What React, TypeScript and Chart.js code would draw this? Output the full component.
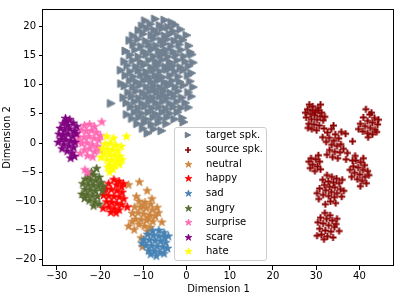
import React, { useEffect, useRef } from "react";
import { Chart, registerables } from "chart.js";

Chart.register(...registerables);

const FONT = "DejaVu Sans";

const seriesLabels = ["target spk.", "source spk.", "neutral", "happy", "sad", "angry", "surprise", "scare", "hate"];
const seriesColors = ["#708090", "#8B0000", "#CD853F", "#FF0000", "#4682B4", "#556B2F", "#FF69B4", "#800080", "#FFFF00"];
const seriesMarkers = ["triangle", "plus", "star", "star", "star", "star", "star", "star", "star"];

const xTicks = [-30, -20, -10, 0, 10, 20, 30, 40];
const yTicks = [-20, -15, -10, -5, 0, 5, 10, 15, 20];
const xRange = [-33.2, 48];
const yRange = [-21.1, 23];

type P = [number, number];

const targetSpk: P[] = [
  [-9.5,21.0],[-7.2,21.3],[-5.0,21.1],[-3.4,20.7],
  [-10.2,20.1],[-8.3,20.4],[-6.1,20.2],[-4.2,19.9],[-2.6,20.3],
  [-11.0,19.3],[-9.1,19.6],[-7.4,19.4],[-5.5,19.7],[-3.0,19.2],[-1.3,19.5],
  [-12.3,18.4],[-10.0,18.7],[-8.0,18.5],[-6.6,18.8],[-4.9,18.4],[-3.8,18.7],[-1.9,18.3],[0.1,18.5],
  [-13.1,17.6],[-11.2,17.8],[-9.3,17.5],[-7.5,17.9],[-5.8,17.6],[-4.4,17.8],[-2.7,17.5],[-0.8,17.7],
  [-12.2,16.9],[-10.4,16.6],[-8.6,16.9],[-6.9,16.7],[-5.2,17.0],[-3.5,16.6],[-1.6,16.9],[0.6,16.7],
  [-14.0,15.8],[-11.8,16.0],[-9.8,15.7],[-7.9,16.1],[-6.3,15.8],[-4.7,16.0],[-3.0,15.7],[-1.2,16.0],[0.9,15.6],
  [-13.0,15.1],[-11.0,14.8],[-9.2,15.2],[-7.5,14.9],[-5.9,15.1],[-4.2,14.8],[-2.4,15.1],[-0.5,14.9],[1.3,15.2],
  [-14.3,14.0],[-12.3,14.2],[-10.5,13.9],[-8.6,14.2],[-7.0,14.0],[-5.5,14.3],[-3.8,13.9],[-2.0,14.2],[-0.2,14.0],[1.6,13.8],
  [-13.6,13.3],[-11.6,13.1],[-9.8,13.4],[-8.1,13.0],[-6.5,13.3],[-4.8,13.1],[-3.0,13.3],[-1.3,13.0],[0.6,13.2],
  [-15.1,12.5],[-12.9,12.3],[-11.0,12.5],[-9.2,12.2],[-7.6,12.5],[-6.0,12.3],[-4.4,12.6],[-2.6,12.3],[-0.7,12.5],[1.2,12.0],
  [-14.0,11.6],[-12.2,11.4],[-10.4,11.7],[-8.7,11.4],[-7.1,11.6],[-5.4,11.3],[-3.7,11.6],[-1.8,11.4],[0.4,11.6],
  [-15.0,10.2],[-13.0,10.7],[-11.5,10.5],[-9.8,10.8],[-8.1,10.5],[-6.6,10.7],[-5.0,10.4],[-3.2,10.7],[-1.5,10.5],[0.9,10.6],
  [-14.2,9.8],[-12.3,9.6],[-10.7,9.9],[-9.1,9.6],[-7.5,9.8],[-5.9,9.5],[-4.3,9.8],[-2.5,9.6],[-0.6,9.9],[1.6,9.6],
  [-13.4,8.7],[-11.6,8.9],[-10.0,8.6],[-8.4,8.9],[-6.8,8.7],[-5.2,8.9],[-3.6,8.6],[-1.9,8.9],[0.5,8.7],
  [-14.5,7.8],[-12.6,8.0],[-10.9,7.7],[-9.3,8.0],[-7.7,7.8],[-6.1,8.0],[-4.5,7.7],[-2.8,8.0],[-1.0,7.8],[1.2,8.0],
  [-13.8,6.9],[-11.9,7.1],[-10.2,6.8],[-8.6,7.1],[-7.0,6.9],[-5.4,7.1],[-3.8,6.8],[-2.1,7.1],[-0.2,6.9],
  [-12.8,6.2],[-11.1,6.0],[-9.5,6.3],[-7.9,6.0],[-6.3,6.2],[-4.7,5.9],[-3.0,6.2],[-1.2,6.0],[0.5,6.1],
  [-13.7,4.9],[-11.9,5.3],[-10.3,5.1],[-8.7,5.3],[-7.1,5.0],[-5.5,5.3],[-3.8,5.1],[-2.0,5.3],
  [-12.5,4.2],[-10.9,4.4],[-9.3,4.1],[-7.6,4.4],[-6.0,4.2],[-4.4,4.4],[-2.7,4.1],[-0.9,4.3],
  [-11.3,3.3],[-9.6,3.5],[-8.0,3.2],[-6.4,3.5],[-4.6,3.3],[-0.6,3.6],
  [-10.0,2.5],[-7.5,2.4],[-5.7,2.1],[-8.9,1.7],
  [-17.4,6.8],
  [-8.0,16.2],[-5.0,15.5],[-6.8,13.6],[-3.6,12.9],[-8.9,11.0],[-6.2,11.1],[-4.0,10.1],[-7.3,9.2],[-5.1,8.2],[-8.2,7.4],
];

const sourceSpk: P[] = [
  [28.0,5.8],[29.2,6.3],[30.4,6.0],[31.3,5.2],[28.6,5.0],[29.8,5.3],[30.9,4.6],[27.7,4.4],[28.9,4.1],[30.2,4.0],
  [31.6,3.9],[28.3,3.3],[29.5,3.2],[30.7,3.0],[29.0,2.4],[30.1,2.2],[27.5,5.2],[29.6,4.8],[28.4,6.6],[31.0,6.6],
  [30.5,5.6],[29.1,5.6],[32.0,4.5],[28.1,2.6],
  [31.8,2.5],[32.6,1.8],[33.5,2.4],[34.4,1.5],[33.0,0.9],[34.1,0.4],[35.2,0.8],[32.3,0.2],[33.6,-0.3],[34.8,-0.5],
  [35.7,-0.2],[33.1,-1.2],[34.3,-1.5],[35.5,-1.6],[32.5,-2.0],[33.8,-2.4],[35.0,-2.6],[36.3,-1.0],[31.5,1.0],[36.9,-2.8],
  [34.0,3.0],[35.8,1.9],[38.4,0.3],[36.8,1.6],[37.2,-1.7],
  [28.8,-2.6],[29.9,-2.8],[30.8,-3.2],[29.2,-3.7],[30.3,-4.0],[28.6,-4.3],[29.7,-4.8],[31.0,-4.5],[28.3,-3.2],[30.5,-2.1],
  [39.2,-3.0],[40.3,-3.3],[41.2,-3.8],[38.6,-4.0],[39.7,-4.2],[40.8,-4.6],[41.9,-4.8],[38.9,-5.1],[40.1,-5.4],[41.3,-5.8],
  [39.5,-6.2],[40.6,-6.5],[42.2,-5.5],[38.2,-5.8],[40.2,-7.4],[39.0,-2.2],[38.4,-3.0],[41.6,-6.9],[37.8,-4.6],[40.9,-2.6],
  [41.5,5.8],[42.4,4.9],[43.5,4.3],[40.9,4.4],[41.9,3.8],[43.0,3.5],[44.2,3.2],[40.2,3.3],[41.3,2.9],[42.5,2.6],
  [43.6,2.3],[40.8,2.0],[41.9,1.7],[43.0,1.5],[42.0,1.0],[44.4,4.0],[39.8,2.4],[42.8,5.2],[44.0,1.9],
  [32.5,-5.5],[33.6,-5.8],[34.7,-6.1],[31.5,-6.3],[32.8,-6.6],[34.0,-6.8],[35.3,-6.9],[31.9,-7.2],[33.1,-7.5],[34.3,-7.6],
  [35.6,-7.9],[30.8,-7.8],[32.2,-8.1],[33.5,-8.4],[34.8,-8.6],[31.6,-8.9],[32.9,-9.1],[34.2,-9.3],[35.9,-9.2],[30.6,-9.6],
  [33.3,-10.0],[34.5,-10.3],[32.1,-10.5],[36.4,-8.2],[30.2,-8.6],[36.0,-6.3],
  [32.0,-12.0],[33.2,-12.4],[31.0,-12.8],[32.4,-13.0],[33.7,-13.3],[34.8,-13.0],[30.4,-13.6],[31.6,-13.8],[32.9,-14.1],[34.2,-14.4],
  [30.8,-14.7],[32.1,-15.0],[33.4,-15.2],[35.3,-15.1],[31.2,-15.7],[32.6,-16.0],[33.9,-16.2],[30.2,-15.9],[31.8,-16.5],[34.6,-13.9],
];

const neutral: P[] = [
  [-13.4,-7.2],[-10.9,-6.7],[-11.6,-9.2],[-9.1,-8.2],[-13.4,-14.3],[-12.1,-14.9],[-10.5,-16.3],[-10.2,-17.8],[-5.7,-13.6],[-6.8,-11.1],[-8.0,-9.6],
  [-11.0,-10.0],[-9.6,-10.2],[-8.3,-10.5],[-12.0,-11.0],[-10.6,-11.1],[-9.3,-11.2],[-7.9,-11.5],[-12.5,-12.1],[-11.2,-12.0],
  [-9.9,-12.2],[-8.5,-12.4],[-7.2,-12.6],[-11.8,-13.1],[-10.5,-13.2],[-9.2,-13.3],[-7.8,-13.5],[-11.0,-14.0],[-9.7,-14.3],[-8.4,-14.5],
  [-12.6,-13.5],[-10.2,-10.8],[-8.9,-12.9],[-6.5,-12.0],[-9.0,-15.2],
];

const happy: P[] = [
  [-16.8,-6.3],[-15.6,-6.6],[-18.0,-7.0],[-16.2,-7.2],[-15.0,-7.5],[-18.7,-7.9],[-17.4,-8.0],[-16.1,-8.2],[-14.9,-8.5],[-19.2,-9.0],
  [-18.0,-9.1],[-16.8,-9.2],[-15.6,-9.3],[-14.5,-9.6],[-18.5,-10.1],[-17.3,-10.2],[-16.1,-10.4],[-15.0,-10.6],[-19.3,-11.2],[-18.0,-11.0],
  [-16.8,-11.3],[-15.6,-11.5],[-17.5,-11.9],[-16.3,-12.0],[-13.7,-11.0],[-14.6,-7.0],[-19.0,-8.2],
];

const sad: P[] = [
  [-7.8,-15.1],[-6.4,-15.0],[-5.2,-15.4],[-9.0,-15.7],[-7.7,-15.9],[-6.4,-16.0],[-5.1,-16.2],[-4.2,-16.0],[-9.9,-16.6],[-8.6,-16.7],
  [-7.3,-16.8],[-6.0,-16.9],[-4.8,-17.1],[-9.4,-17.6],[-8.1,-17.7],[-6.8,-17.8],[-5.5,-17.9],[-4.4,-18.1],[-8.8,-18.5],[-7.5,-18.6],
  [-6.2,-18.8],[-5.2,-19.0],[-7.0,-19.4],[-10.3,-17.2],[-8.3,-19.1],
];

const angry: P[] = [
  [-20.8,-4.4],[-22.6,-5.6],[-21.4,-5.5],[-20.2,-5.9],[-23.4,-6.2],[-22.2,-6.4],[-21.0,-6.5],[-19.8,-6.8],[-24.0,-7.0],[-22.8,-7.2],
  [-21.6,-7.3],[-20.4,-7.5],[-23.5,-8.0],[-22.3,-8.1],[-21.1,-8.3],[-19.5,-8.2],[-24.2,-8.8],[-23.0,-8.9],[-21.8,-9.1],[-20.6,-9.2],
  [-22.5,-9.9],[-21.2,-10.1],[-20.2,-10.5],[-21.5,-10.8],[-23.6,-9.5],[-19.3,-7.4],[-22.0,-5.0],
];

const surprise: P[] = [
  [-23.6,3.0],[-22.4,3.2],[-21.3,2.8],[-24.4,2.2],[-23.2,2.0],[-22.0,2.1],[-20.8,1.8],[-24.9,1.0],[-23.7,0.9],[-22.6,1.1],
  [-21.4,0.8],[-20.3,0.5],[-24.2,-0.1],[-23.0,0.0],[-21.8,-0.3],[-20.6,-0.6],[-23.6,-1.2],[-22.4,-1.0],[-21.2,-1.5],[-24.6,-1.8],
  [-22.9,-2.2],[-21.7,-2.4],[-19.6,3.6],[-23.5,-4.6],[-22.9,-5.1],[-25.0,0.2],[-20.0,-1.3],[-19.9,1.2],
];

const scare: P[] = [
  [-28.0,4.2],[-27.0,4.0],[-26.2,3.4],[-28.6,3.3],[-27.5,3.0],[-29.2,2.5],[-28.2,2.2],[-27.0,2.4],[-26.0,2.0],[-29.5,1.5],
  [-28.5,1.3],[-27.4,1.5],[-26.3,1.1],[-25.5,1.6],[-29.0,0.6],[-27.9,0.5],[-26.8,0.3],[-25.8,0.1],[-28.4,-0.3],[-27.2,-0.5],
  [-26.1,-0.8],[-28.8,-1.0],[-27.6,-1.4],[-26.5,-1.7],[-25.9,-2.3],[-26.8,-2.6],[-29.7,0.1],[-25.4,2.8],[-27.8,3.7],
];

const hate: P[] = [
  [-18.5,1.1],[-16.9,0.8],[-13.9,1.1],[-18.8,-0.2],[-17.6,-0.1],[-16.4,-0.4],[-19.5,-1.0],[-18.3,-1.1],[-17.1,-1.2],[-15.9,-1.4],
  [-19.0,-1.9],[-17.8,-2.0],[-16.6,-2.2],[-15.4,-2.3],[-18.4,-2.9],[-17.2,-3.0],[-16.0,-3.1],[-14.9,-2.9],[-17.8,-3.8],[-16.6,-3.9],
  [-15.5,-3.7],[-17.0,-4.5],[-17.8,-5.0],[-19.8,-2.5],[-15.1,-0.6],[-18.2,-4.2],
];

const seriesData: P[][] = [targetSpk, sourceSpk, neutral, happy, sad, angry, surprise, scare, hate];

function makeMarker(kind: string, color: string, size: number): HTMLCanvasElement {
  const pad = 2;
  const dim = Math.ceil(size + pad * 2);
  const c = document.createElement("canvas");
  c.width = dim;
  c.height = dim;
  const ctx = c.getContext("2d")!;
  const cx = dim / 2;
  const cy = dim / 2;
  const r = size / 2;
  ctx.fillStyle = color;
  ctx.strokeStyle = color;
  ctx.lineJoin = "miter";
  if (kind === "triangle") {
    ctx.beginPath();
    ctx.moveTo(cx + r, cy);
    ctx.lineTo(cx - r, cy - r);
    ctx.lineTo(cx - r, cy + r);
    ctx.closePath();
    ctx.fill();
    ctx.lineWidth = 1;
    ctx.stroke();
  } else if (kind === "plus") {
    ctx.lineWidth = Math.max(1.2, size * 0.28);
    ctx.beginPath();
    ctx.moveTo(cx - r, cy);
    ctx.lineTo(cx + r, cy);
    ctx.moveTo(cx, cy - r);
    ctx.lineTo(cx, cy + r);
    ctx.stroke();
  } else {
    ctx.beginPath();
    for (let k = 0; k < 10; k++) {
      const a = -Math.PI / 2 + (k * Math.PI) / 5;
      const rad = k % 2 === 0 ? r : r * 0.382;
      const px = cx + rad * Math.cos(a);
      const py = cy + rad * Math.sin(a);
      if (k === 0) ctx.moveTo(px, py);
      else ctx.lineTo(px, py);
    }
    ctx.closePath();
    ctx.fill();
    ctx.lineWidth = 0.8;
    ctx.lineJoin = "round";
    ctx.stroke();
  }
  return c;
}

const markerSize: Record<string, number> = { triangle: 8, plus: 7, star: 9 };
const legendMarkerSize: Record<string, number> = { triangle: 5.5, plus: 6, star: 7 };

const minusFmt = (v: number | string) => String(v).replace("-", "\u2212");

const framePlugin = {
  id: "mplFrame",
  afterDatasetsDraw(chart: any) {
    const { ctx, chartArea: a } = chart;
    ctx.save();
    ctx.strokeStyle = "#000";
    ctx.lineWidth = 1;
    ctx.strokeRect(a.left - 0.5, a.top + 0.5, a.right - a.left, a.bottom - a.top - 1);
    ctx.restore();
  },
};

const legendPlugin = {
  id: "mplLegend",
  afterDraw(chart: any) {
    const ctx = chart.ctx;
    const x0 = 174.5;
    const y0 = 127.5;
    const w = 92;
    const h = 133;
    const rr = 2.5;
    ctx.save();
    ctx.beginPath();
    ctx.moveTo(x0 + rr, y0);
    ctx.lineTo(x0 + w - rr, y0);
    ctx.quadraticCurveTo(x0 + w, y0, x0 + w, y0 + rr);
    ctx.lineTo(x0 + w, y0 + h - rr);
    ctx.quadraticCurveTo(x0 + w, y0 + h, x0 + w - rr, y0 + h);
    ctx.lineTo(x0 + rr, y0 + h);
    ctx.quadraticCurveTo(x0, y0 + h, x0, y0 + h - rr);
    ctx.lineTo(x0, y0 + rr);
    ctx.quadraticCurveTo(x0, y0, x0 + rr, y0);
    ctx.closePath();
    ctx.fillStyle = "rgba(255,255,255,0.8)";
    ctx.fill();
    ctx.strokeStyle = "#cccccc";
    ctx.lineWidth = 1;
    ctx.stroke();

    ctx.font = `10px "${FONT}"`;
    ctx.textBaseline = "middle";
    ctx.textAlign = "left";
    ctx.fillStyle = "#000";
    const datasets = chart.data.datasets;
    datasets.forEach((ds: any, i: number) => {
      const cy = 135 + i * 14.6;
      const img: HTMLCanvasElement = ds.legendMarker;
      ctx.drawImage(img, Math.round(188 - img.width / 2), Math.round(cy - img.height / 2));
      ctx.fillText(ds.label, 206, cy);
    });
    ctx.restore();
  },
};

export default function App() {
  const ref = useRef<HTMLCanvasElement | null>(null);

  useEffect(() => {
    document.body.style.margin = "0";
    const canvas = ref.current;
    if (!canvas) return;
    const n = seriesData.length;
    const datasets = seriesData.map((pts, i) => {
      const kind = seriesMarkers[i];
      return {
        label: seriesLabels[i],
        data: pts.map(([x, y]) => ({ x, y })),
        pointStyle: makeMarker(kind, seriesColors[i], markerSize[kind]),
        legendMarker: makeMarker(kind, seriesColors[i], legendMarkerSize[kind]),
        pointRadius: 4,
        pointHoverRadius: 4,
        backgroundColor: seriesColors[i],
        borderColor: seriesColors[i],
        showLine: false,
        order: n - 1 - i,
      };
    });

    const tickFont = { family: FONT, size: 10 };
    const chart = new Chart(canvas, {
      type: "scatter",
      data: { datasets } as any,
      options: {
        animation: false,
        responsive: false,
        devicePixelRatio: 1,
        events: [],
        layout: { padding: { top: 2, right: 2, left: 0, bottom: 0 } },
        plugins: { legend: { display: false }, tooltip: { enabled: false } },
        scales: {
          x: {
            type: "linear",
            min: xRange[0],
            max: xRange[1],
            afterBuildTicks: (s: any) => {
              s.ticks = xTicks.map((v) => ({ value: v }));
            },
            afterFit: (s: any) => {
              s.height = 29;
            },
            grid: { drawOnChartArea: false, drawTicks: true, tickLength: 4, color: "#000" },
            border: { display: false },
            ticks: { padding: 0, color: "#000", font: tickFont, callback: (v: any) => minusFmt(v) },
            title: { display: true, text: "Dimension 1", color: "#000", font: tickFont, padding: { top: 0, bottom: 0 } },
          },
          y: {
            type: "linear",
            min: yRange[0],
            max: yRange[1],
            afterBuildTicks: (s: any) => {
              s.ticks = yTicks.map((v) => ({ value: v }));
            },
            afterFit: (s: any) => {
              s.width = 43;
            },
            grid: { drawOnChartArea: false, drawTicks: true, tickLength: 4, color: "#000" },
            border: { display: false },
            ticks: { padding: 3, color: "#000", font: tickFont, callback: (v: any) => minusFmt(v) },
            title: { display: true, text: "Dimension 2", color: "#000", font: tickFont, padding: { top: 1, bottom: 0 } },
          },
        },
      } as any,
      plugins: [framePlugin, legendPlugin],
    });
    return () => chart.destroy();
  }, []);

  return (
    <div style={{ width: 399, height: 295 }}>
      <canvas ref={ref} width={399} height={295} style={{ display: "block" }} />
    </div>
  );
}
